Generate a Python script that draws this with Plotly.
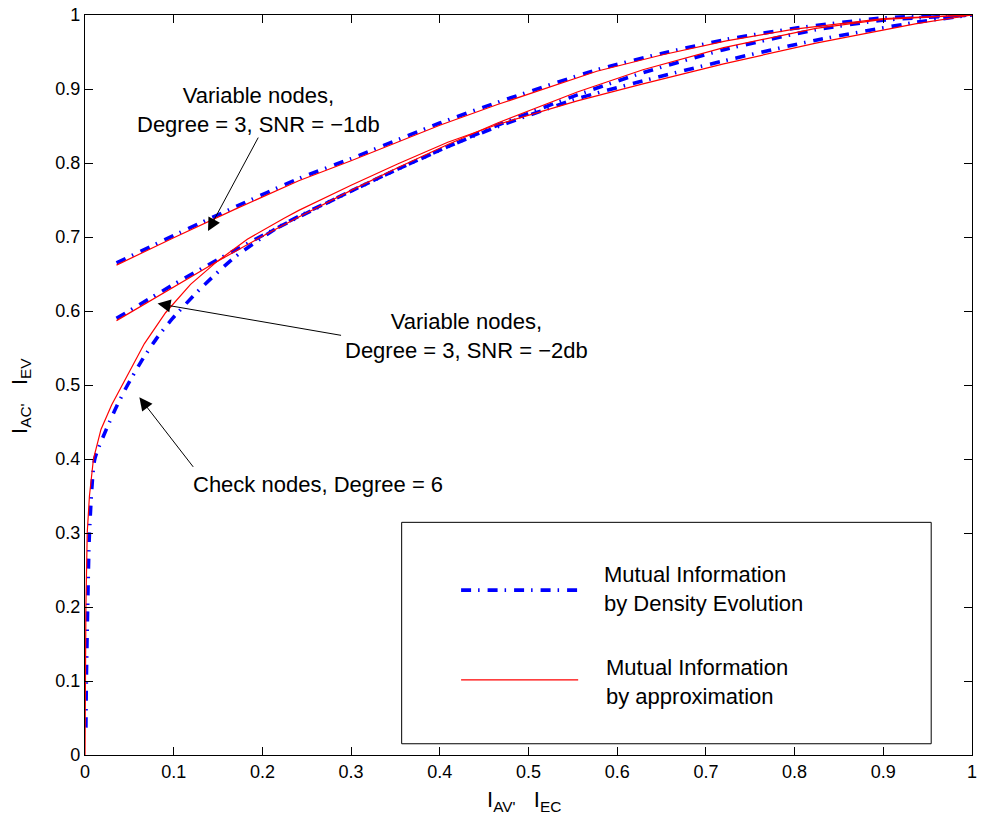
import plotly.graph_objects as go

# ---------------- data ----------------
VAR1_X = [0.0355, 0.1, 0.17, 0.241, 0.3, 0.4, 0.465, 0.577, 0.65, 0.723, 0.8, 0.9, 1.0]
VAR1_APPROX = [0.662, 0.699, 0.738, 0.776, 0.803, 0.851, 0.879, 0.924, 0.946, 0.965, 0.981, 0.995, 1.0]
VAR1_DE = [0.665, 0.702, 0.741, 0.779, 0.806, 0.854, 0.882, 0.926, 0.948, 0.967, 0.982, 0.996, 1.0]

VAR2_X = [0.0355, 0.1, 0.149, 0.2, 0.241, 0.3, 0.353, 0.409, 0.465, 0.555, 0.629, 0.72, 0.824, 0.9, 1.0]
VAR2_APPROX = [0.587, 0.633, 0.667, 0.701, 0.727, 0.763, 0.794, 0.825, 0.854, 0.896, 0.926, 0.956, 0.982, 0.994, 1.0]
VAR2_DE = [0.590, 0.636, 0.669, 0.702, 0.727, 0.762, 0.792, 0.822, 0.851, 0.892, 0.922, 0.953, 0.980, 0.993, 1.0]

CHK_APPROX_X = [0.0, 0.0003, 0.001, 0.0025, 0.005, 0.0095, 0.018, 0.03, 0.042, 0.054, 0.067, 0.091, 0.119,
                0.149, 0.183, 0.224, 0.241, 0.3, 0.353, 0.409, 0.465, 0.555, 0.629, 0.72, 0.824, 0.936, 1.0]
CHK_APPROX_Y = [0.0, 0.1, 0.2, 0.3, 0.35, 0.4, 0.44, 0.473, 0.5, 0.528, 0.556, 0.598, 0.636,
                0.667, 0.697, 0.725, 0.736, 0.770, 0.799, 0.828, 0.852, 0.884, 0.907, 0.934, 0.962, 0.988, 1.0]

CHK_DE_X = [0.001, 0.0015, 0.003, 0.005, 0.011, 0.024, 0.036, 0.048, 0.065, 0.082, 0.0987, 0.130, 0.168,
            0.216, 0.241, 0.3, 0.353, 0.409, 0.465, 0.555, 0.629, 0.72, 0.824, 0.936, 1.0]
CHK_DE_Y = [0.037, 0.1, 0.2, 0.3, 0.4, 0.44, 0.472, 0.5, 0.535, 0.565, 0.590, 0.630, 0.672,
            0.712, 0.728, 0.762, 0.792, 0.822, 0.849, 0.887, 0.911, 0.938, 0.966, 0.990, 1.0]

TICKS = [0, 0.1, 0.2, 0.3, 0.4, 0.5, 0.6, 0.7, 0.8, 0.9, 1]
TICK_LABELS = ["0", "0.1", "0.2", "0.3", "0.4", "0.5", "0.6", "0.7", "0.8", "0.9", "1"]

LEGEND_DE = "Mutual Information<br>by Density Evolution"
LEGEND_APPROX = "Mutual Information<br>by approximation"
NOTE_VAR1 = "Variable nodes,<br>Degree = 3, SNR = \u22121db"
NOTE_VAR2 = "Variable nodes,<br>Degree = 3, SNR = \u22122db"
NOTE_CHK = "Check nodes, Degree = 6"

# ---------------- styles ----------------
FONT = "Liberation Sans, Arial, Helvetica, sans-serif"
BLUE = "rgb(0,0,255)"
RED = "rgb(255,0,0)"
DASH = "10px,7px,1.5px,8px"

fig = go.Figure()

for xs, ys in [(VAR1_X, VAR1_DE), (VAR2_X, VAR2_DE), (CHK_DE_X, CHK_DE_Y)]:
    fig.add_trace(go.Scatter(x=xs, y=ys, mode="lines", showlegend=False,
                             line=dict(color=BLUE, width=3.6, dash=DASH, shape="spline", smoothing=0.6)))
for xs, ys in [(VAR1_X, VAR1_APPROX), (VAR2_X, VAR2_APPROX), (CHK_APPROX_X, CHK_APPROX_Y)]:
    fig.add_trace(go.Scatter(x=xs, y=ys, mode="lines", showlegend=False,
                             line=dict(color=RED, width=1.2)))

axis_common = dict(range=[0, 1], tickvals=TICKS, ticktext=TICK_LABELS, showgrid=False,
                   zeroline=False, ticks="inside", ticklen=8, tickwidth=1, tickcolor="black",
                   showline=True, linecolor="black", linewidth=1.2, mirror="ticks",
                   tickfont=dict(family=FONT, size=18, color="black"))

fig.update_layout(
    width=982, height=822,
    margin=dict(l=85, r=5, t=13, b=67),
    paper_bgcolor="white", plot_bgcolor="white",
    xaxis=axis_common, yaxis=axis_common,
    font=dict(family=FONT, color="black"),
    showlegend=False,
)

ann_font = dict(family=FONT, size=22, color="black")

# text blocks
fig.add_annotation(x=0.196, y=0.872, xref="x", yref="y", text=NOTE_VAR1, showarrow=False,
                   font=ann_font, align="center", xanchor="center", yanchor="middle")
fig.add_annotation(x=0.430, y=0.566, xref="x", yref="y", text=NOTE_VAR2, showarrow=False,
                   font=ann_font, align="center", xanchor="center", yanchor="middle")
fig.add_annotation(x=0.2626, y=0.3656, xref="x", yref="y", text=NOTE_CHK, showarrow=False,
                   font=ann_font, align="center", xanchor="center", yanchor="middle")

# arrows
arrow_style = dict(showarrow=True, arrowhead=2, arrowsize=2.6, arrowwidth=1, arrowcolor="black",
                   text="", xref="x", yref="y")
fig.add_annotation(x=0.1387, y=0.708, ax=51, ay=-95, **arrow_style)
fig.add_annotation(x=0.0818, y=0.610, ax=185, ay=32, **arrow_style)
fig.add_annotation(x=0.0613, y=0.4833, ax=55, ay=71, **arrow_style)

# legend box
fig.add_shape(type="rect", xref="x", yref="y", x0=0.357, x1=0.954, y0=0.0152, y1=0.3144,
              line=dict(color="black", width=1), fillcolor="white", layer="above")
fig.add_shape(type="line", xref="x", yref="y", x0=0.424, x1=0.556, y0=0.2228, y1=0.2228,
              line=dict(color=BLUE, width=3.6, dash=DASH), layer="above")
fig.add_shape(type="line", xref="x", yref="y", x0=0.424, x1=0.556, y0=0.1015, y1=0.1015,
              line=dict(color=RED, width=1.2), layer="above")
fig.add_annotation(x=0.5826, y=0.224, xref="x", yref="y", text=LEGEND_DE, showarrow=False,
                   font=ann_font, align="left", xanchor="left", yanchor="middle")
fig.add_annotation(x=0.585, y=0.098, xref="x", yref="y", text=LEGEND_APPROX, showarrow=False,
                   font=ann_font, align="left", xanchor="left", yanchor="middle")

# axis titles
fig.add_annotation(x=0.495, y=-0.062, xref="paper", yref="paper",
                   text="I<sub>AV'</sub>   I<sub>EC</sub>", showarrow=False,
                   font=dict(family=FONT, size=22, color="black"), xanchor="center", yanchor="middle")
fig.add_annotation(x=-0.073, y=0.4856, xref="paper", yref="paper",
                   text="I<sub>AC'</sub>   I<sub>EV</sub>", showarrow=False, textangle=-90,
                   font=dict(family=FONT, size=22, color="black"), xanchor="center", yanchor="middle")

fig.write_html("out.html")
